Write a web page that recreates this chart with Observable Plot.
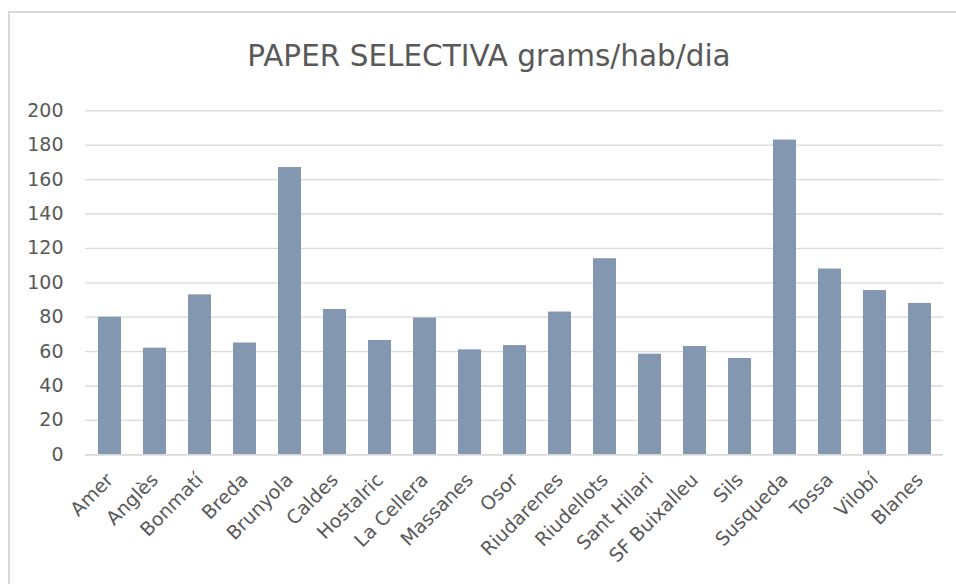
<!DOCTYPE html>
<html>
<head>
<meta charset="utf-8">
<script src="https://cdn.jsdelivr.net/npm/d3@7"></script>
<script src="https://cdn.jsdelivr.net/npm/@observablehq/plot@0.6"></script>
<style>
  html, body { margin: 0; padding: 0; background: #fff; }
  body { width: 956px; height: 584px; position: relative; overflow: hidden; font-family: "DejaVu Sans", sans-serif; }
  #frame { position: absolute; left: 8px; top: 11px; width: 960px; height: 600px; border-left: 2px solid #d9d9d9; border-top: 2px solid #d9d9d9; box-sizing: border-box; }
  #title { position: absolute; left: 0; top: 39px; width: 978px; text-align: center; font-size: 29.5px; color: #595959; font-family: "DejaVu Sans", sans-serif; white-space: nowrap; }
  #chart { position: absolute; left: 0; top: 90px; }
</style>
</head>
<body>
<div id="frame"></div>
<div id="title">PAPER SELECTIVA grams/hab/dia</div>
<div id="chart"></div>
<script>
const municipis = ["Amer","Anglès","Bonmatí","Breda","Brunyola","Caldes","Hostalric","La Cellera","Massanes","Osor","Riudarenes","Riudellots","Sant Hilari","SF Buixalleu","Sils","Susqueda","Tossa","Vilobí","Blanes"];
const grams = [80, 62, 93, 65, 167, 84.5, 66.5, 79.5, 61, 63.5, 83, 114, 58.5, 63, 56, 183, 108, 95.5, 88];
const yTicks = [0, 20, 40, 60, 80, 100, 120, 140, 160, 180, 200];

const data = municipis.map((m, i) => ({municipi: m, grams: grams[i]}));

const chart = Plot.plot({
  width: 956,
  height: 494,
  marginTop: 20.3,
  marginBottom: 129.7,
  marginLeft: 85,
  marginRight: 13,
  style: {fontFamily: "DejaVu Sans, sans-serif", fontSize: "19px", color: "#595959", background: "transparent"},
  x: {domain: municipis, paddingInner: 0.5, paddingOuter: 0.25, label: null, tickSize: 0, tickRotate: -45, tickPadding: 22},
  y: {domain: [0, 200], ticks: yTicks, label: null, tickSize: 0, tickPadding: 22},
  marks: [
    Plot.ruleY(yTicks, {stroke: "#d9d9d9", strokeWidth: 1.3}),
    Plot.barY(data, {x: "municipi", y: "grams", fill: "#8497b0"}),
    Plot.ruleY([0], {stroke: "#d9d9d9", strokeWidth: 1.5})
  ]
});
document.getElementById("chart").appendChild(chart);
</script>
</body>
</html>
